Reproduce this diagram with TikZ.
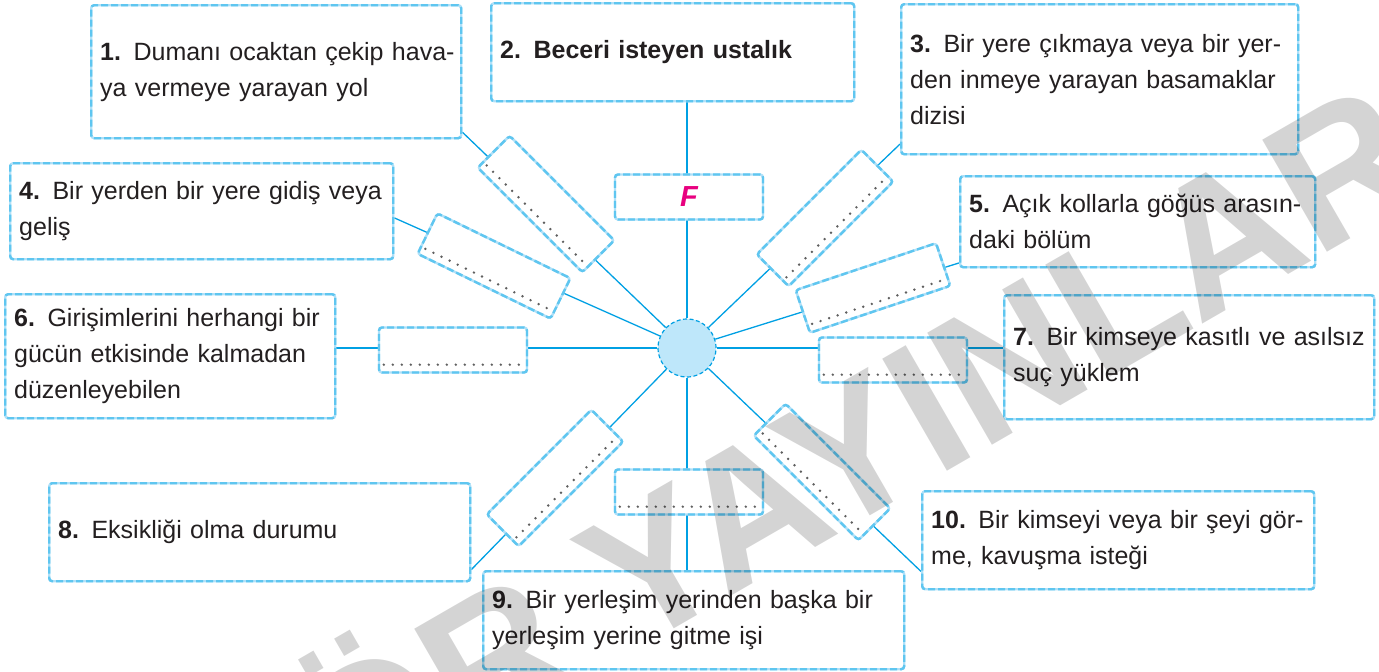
\documentclass[tikz,border=0pt]{standalone}
\usepackage{fontspec}
\setmainfont{Liberation Sans}
\usetikzlibrary{calc,backgrounds}

\definecolor{lineblue}{RGB}{0,160,227}
\definecolor{boxblue}{RGB}{95,198,240}
\definecolor{boxlight}{RGB}{175,224,248}
\definecolor{dotgray}{RGB}{95,95,95}
\definecolor{circfill}{RGB}{190,231,250}
\definecolor{fmag}{RGB}{232,0,127}
\definecolor{txt}{RGB}{35,31,32}

\tikzset{
  dashbox/.style={draw=boxlight, line width=2.4pt, rounded corners=3pt, fill=white,
    postaction={draw=boxblue, line width=2.4pt, dash pattern=on 7pt off 3pt}},
  defbox/.style={dashbox, anchor=north west, inner sep=9pt, align=left, text=txt,
    font=\fontsize{25}{36}\selectfont},
  ansbox/.style={dashbox, minimum width=148pt, minimum height=45pt, inner sep=0pt},
  dotline/.style={dotgray, line width=2.7pt, line cap=round, dash pattern=on 0pt off 9pt,
    shorten <=6pt, shorten >=6pt},
  spoke/.style={lineblue, line width=1.3pt}
}

\newcommand{\fullline}[1]{\makebox[\linewidth][s]{#1}}

\begin{document}
\begin{tikzpicture}[x=1pt,y=-1pt]
  \useasboundingbox (0,0) rectangle (1379,672);

  % Definition boxes
  \node[defbox, minimum width=370pt, minimum height=133pt, text width=352pt] (d1) at (90,4)
    {\fullline{\textbf{1.} Dumanı ocaktan çekip hava-}\\ya vermeye yarayan yol};
  \node[defbox, minimum width=363pt, minimum height=98pt, text width=345pt] (d2) at (490,2)
    {\textbf{2. Beceri isteyen ustalık}};
  \node[defbox, minimum width=397pt, minimum height=150pt, text width=379pt] (d3) at (900,3)
    {\fullline{\textbf{3.} Bir yere çıkmaya veya bir yer-}\\\fullline{den inmeye yarayan basamaklar}\\dizisi};
  \node[defbox, minimum width=383pt, minimum height=96pt, text width=365pt] (d4) at (9,162)
    {\fullline{\textbf{4.} Bir yerden bir yere gidiş veya}\\geliş};
  \node[defbox, minimum width=355pt, minimum height=91pt, text width=337pt] (d5) at (959,175)
    {\fullline{\textbf{5.} Açık kollarla göğüs arasın-}\\daki bölüm};
  \node[defbox, minimum width=330pt, minimum height=124pt, text width=312pt] (d6) at (4,293)
    {\fullline{\textbf{6.} Girişimlerini herhangi bir}\\\fullline{gücün etkisinde kalmadan}\\düzenleyebilen};
  \node[defbox, minimum width=370pt, minimum height=124pt, text width=352pt] (d7) at (1003,294)
    {\fullline{\textbf{7.} Bir kimseye kasıtlı ve asılsız}\\suç yüklem};
  \node[defbox, minimum width=421pt, minimum height=98pt, text width=403pt] (d8) at (48,482)
    {\textbf{8.} Eksikliği olma durumu};
  \node[defbox, minimum width=421pt, minimum height=98pt, text width=403pt] (d9) at (482,570)
    {\fullline{\textbf{9.} Bir yerleşim yerinden başka bir}\\yerleşim yerine gitme işi};
  \node[defbox, minimum width=392pt, minimum height=98pt, text width=374pt] (d10) at (921,490)
    {\fullline{\textbf{10.} Bir kimseyi veya bir şeyi gör-}\\me, kavuşma isteği};

  % Answer boxes
  \node[ansbox] (fbox) at (689,197) {\fontsize{29}{32}\selectfont\bfseries\itshape\color{fmag}F};
  \node[ansbox, rotate=-45] (a1) at (546,204) {};
  \node[ansbox, rotate=45] (a3) at (825,218) {};
  \node[ansbox, rotate=-26] (a4) at (494,266) {};
  \node[ansbox, rotate=18.5] (a5) at (873,288) {};
  \node[ansbox] (a6) at (453,350) {};
  \node[ansbox] (a7) at (893,360) {};
  \node[ansbox, rotate=45] (a8) at (555,478) {};
  \node[ansbox] (a9) at (689,492) {};
  \node[ansbox, rotate=-45] (a10) at (822,472) {};

  % Dotted writing lines
  \draw[dotline] ($(a1.south west)!.19!(a1.north west)$) -- ($(a1.south east)!.19!(a1.north east)$);
  \draw[dotline] ($(a3.south west)!.19!(a3.north west)$) -- ($(a3.south east)!.19!(a3.north east)$);
  \draw[dotline] ($(a4.south west)!.19!(a4.north west)$) -- ($(a4.south east)!.19!(a4.north east)$);
  \draw[dotline] ($(a5.south west)!.19!(a5.north west)$) -- ($(a5.south east)!.19!(a5.north east)$);
  \draw[dotline] ($(a6.south west)!.19!(a6.north west)$) -- ($(a6.south east)!.19!(a6.north east)$);
  \draw[dotline] ($(a7.south west)!.19!(a7.north west)$) -- ($(a7.south east)!.19!(a7.north east)$);
  \draw[dotline] ($(a8.south west)!.19!(a8.north west)$) -- ($(a8.south east)!.19!(a8.north east)$);
  \draw[dotline] ($(a9.south west)!.19!(a9.north west)$) -- ($(a9.south east)!.19!(a9.north east)$);
  \draw[dotline] ($(a10.south west)!.19!(a10.north west)$) -- ($(a10.south east)!.19!(a10.north east)$);

  % Centre
  \node[circle, minimum size=58pt, inner sep=0pt, fill=circfill, draw=lineblue, line width=1.2pt,
    dash pattern=on 4pt off 2.5pt] (c) at (687,348) {};

  % Spokes
  \begin{pgfonlayer}{background}
    \draw[spoke] (c) -- (d1.342);
    \draw[spoke] (c) -- (c |- d2.south);
    \draw[spoke] (c) -- (d3.198);
    \draw[spoke] (c) -- (d4.358);
    \draw[spoke] (c) -- (d5.193);
    \draw[spoke] (c) -- (c -| d6.east);
    \draw[spoke] (c) -- (c -| d7.west);
    \draw[spoke] (c) -- (d8.350);
    \draw[spoke] (c) -- (c |- d9.north);
    \draw[spoke] (c) -- (d10.189);
  \end{pgfonlayer}

  % Watermark
  \begin{scope}
    \clip (0,0) rectangle (1379,672);
    \node[rotate=30, opacity=.17, font=\fontsize{188}{188}\selectfont\bfseries] (wm) at (848,437) {ÖR YAYINLAR};
  \end{scope}
\end{tikzpicture}
\end{document}
